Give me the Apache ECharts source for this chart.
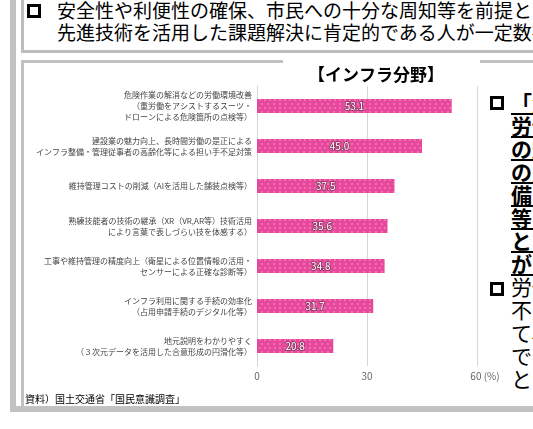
<!DOCTYPE html>
<html><head><meta charset="utf-8">
<script src="https://cdn.jsdelivr.net/npm/echarts@6/dist/echarts.min.js"></script>
<style>
html,body{margin:0;padding:0;width:533px;height:429px;overflow:hidden;background:#fff;font-family:"Noto Sans CJK JP","Noto Sans",sans-serif;}
.abs{position:absolute;box-sizing:border-box;}
.gray{background:#c2c2c2;}
.chk{position:absolute;width:14px;height:14px;border:3px solid #000;box-sizing:border-box;}
.t{white-space:nowrap;color:#000;}
.rp div{height:23px;line-height:23px;white-space:nowrap;}
.rp .u{font-weight:bold;text-decoration:underline;text-underline-offset:2px;}
</style></head><body>
<div class="abs gray" style="left:10px;top:0;width:6px;height:412px;"></div>
<div class="abs gray" style="left:10px;top:406px;width:540px;height:6px;border-bottom-left-radius:3px;"></div>
<div class="abs" style="left:21px;top:-10px;width:600px;height:63px;border:3px solid #bdbdbd;"></div>
<div class="abs gray" style="left:21px;top:60px;width:262px;height:3px;"></div>
<div class="abs gray" style="left:480px;top:60px;width:60px;height:3px;"></div>
<div class="abs gray" style="left:21px;top:60px;width:3px;height:350px;"></div>
<div class="chk" style="left:27px;top:4px;"></div>
<div class="abs t" style="left:57px;top:-1px;font-size:19px;line-height:22px;">安全性や利便性の確保、市民への十分な周知等を前提として、<br>先進技術を活用した課題解決に肯定的である人が一定数存在。</div>
<div class="chk" style="left:490px;top:96px;"></div>
<div class="chk" style="left:490px;top:282px;"></div>
<div class="abs rp" style="left:511px;top:91px;font-size:21px;">
<div class="u">「危険作業の解消などの</div>
<div class="u">労働環境改善」や「建設業</div>
<div class="u">の魅力向上、長時間労働</div>
<div class="u">の是正によるインフラ整</div>
<div class="u">備・管理従事者の高齢化</div>
<div class="u">等による担い手不足対策」</div>
<div class="u">といった課題解決への期待</div>
<div class="u">が高い。</div>
<div>労働力の減少や担い手の</div>
<div>不足が深刻化する中におい</div>
<div>て、先進技術の活用が重要</div>
<div>であると考えられているこ</div>
<div>とがうかがえる。</div>
</div>
<div id="chart" class="abs" style="left:24px;top:63px;width:482px;height:343px;"></div>
<script>
const categories = [
  "危険作業の解消などの労働環境改善\n（重労働をアシストするスーツ・\nドローンによる危険箇所の点検等）",
  "建設業の魅力向上、長時間労働の是正による\nインフラ整備・管理従事者の高齢化等による担い手不足対策",
  "維持管理コストの削減（AIを活用した舗装点検等）",
  "熟練技能者の技術の継承（XR（VR,AR等）技術活用\nにより言葉で表しづらい技を体感する）",
  "工事や維持管理の精度向上（衛星による位置情報の活用・\nセンサーによる正確な診断等）",
  "インフラ利用に関する手続の効率化\n（占用申請手続のデジタル化等）",
  "地元説明をわかりやすく\n（３次元データを活用した合意形成の円滑化等）"
];
const values = [53.1, 45.0, 37.5, 35.6, 34.8, 31.7, 20.8];
const xTicks = [0, 30, 60];
const chartTitle = "【インフラ分野】";
const sourceNote = "資料）国土交通省「国民意識調査」";

const chart = echarts.init(document.getElementById('chart'));
chart.setOption({
  animation: false,
  textStyle: { fontFamily: '"Noto Sans CJK JP","Noto Sans",sans-serif' },
  graphic: [
    { type: 'text', x: 352, y: 12, style: { text: chartTitle, fontSize: 17, fontWeight: 'bold', fill: '#000', align: 'center', verticalAlign: 'middle', fontFamily: '"Noto Sans CJK JP",sans-serif' } },
    { type: 'text', x: 1, y: 336, style: { text: sourceNote, fontSize: 10, fill: '#000', align: 'left', verticalAlign: 'middle', fontFamily: '"Noto Sans CJK JP",sans-serif' } }
  ],
  grid: { left: 233, right: 29, top: 23, bottom: 40, containLabel: false, outerBoundsMode: 'none' },
  xAxis: {
    type: 'value', min: xTicks[0], max: xTicks[xTicks.length - 1], interval: xTicks[1] - xTicks[0],
    axisLine: { show: false }, axisTick: { show: false },
    splitLine: { lineStyle: { color: '#d6d6d6', width: 1 } },
    axisLabel: {
      color: '#666', fontSize: 10, margin: 5,
      formatter: v => v === xTicks[xTicks.length - 1] ? '{p|' + v + ' (%)}' : String(v),
      rich: { p: { color: '#666', fontSize: 10, padding: [0, 0, 0, 16] } }
    }
  },
  yAxis: {
    type: 'category', inverse: true, data: categories,
    axisLine: { show: true, lineStyle: { color: '#d6d6d6' } },
    axisTick: { show: false },
    axisLabel: { fontSize: 8, lineHeight: 11, color: '#444', margin: 5 }
  },
  series: [{
    type: 'bar', data: values, barWidth: 14,
    itemStyle: {
      color: '#e8489c',
      decal: { symbol: 'circle', symbolSize: 0.8, color: 'rgba(255,255,255,0.5)', dashArrayX: [[2, 3], [0, 2.5, 2, 0.5]], dashArrayY: [2, 2], rotation: 0 }
    },
    label: {
      show: true, position: 'inside', fontSize: 10, color: '#fff',
      textBorderColor: 'rgba(110,50,80,0.85)', textBorderWidth: 1.5,
      formatter: p => p.value.toFixed(1)
    }
  }]
});
</script>
</body></html>
